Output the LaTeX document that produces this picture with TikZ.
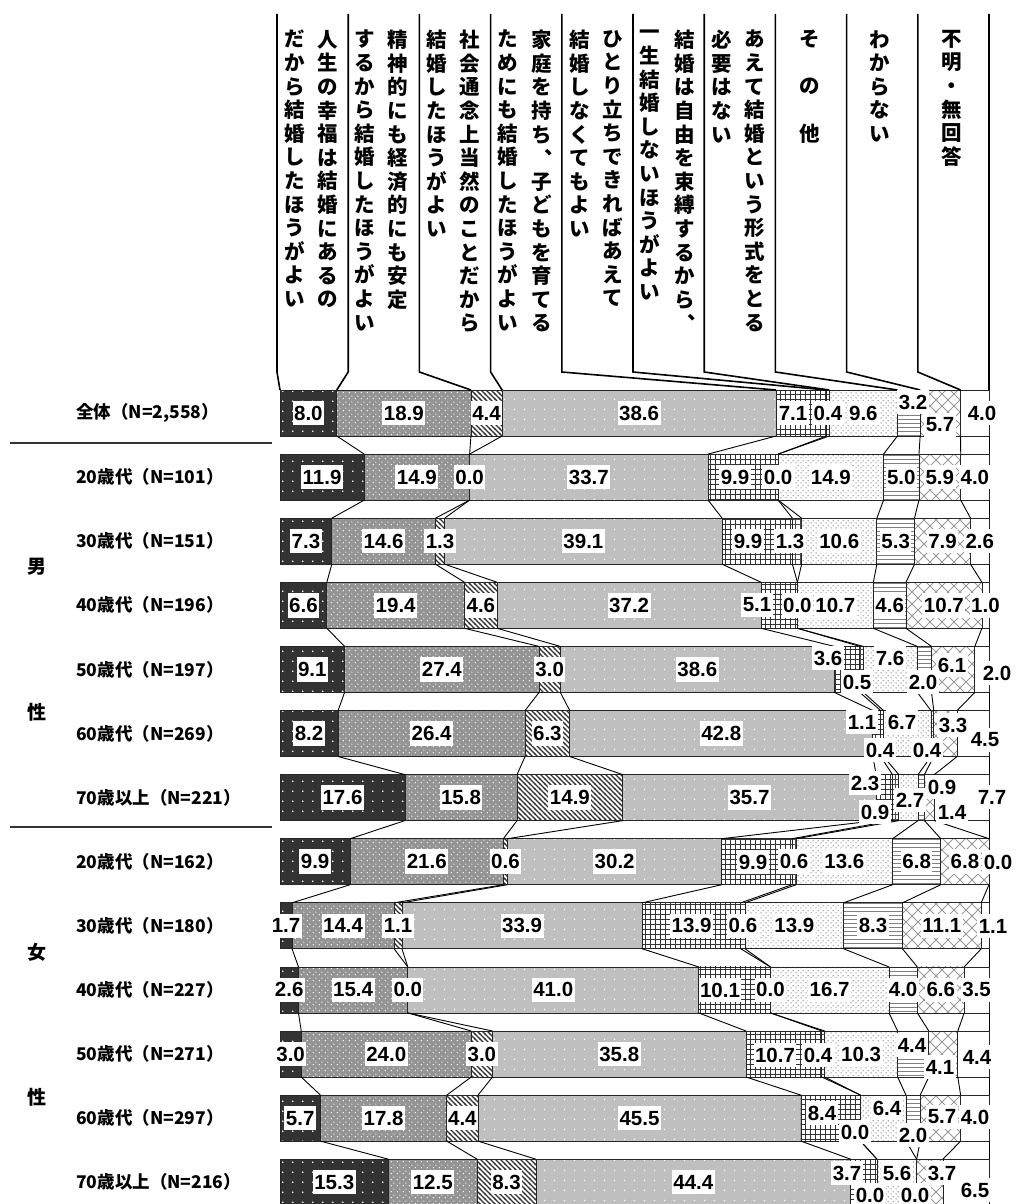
\documentclass[tikz,border=0pt]{standalone}
\usepackage{fontspec}
\setmainfont{Liberation Sans}
\newfontfamily\jp{Noto Sans CJK JP}
\usetikzlibrary{patterns}

\pgfdeclarelayer{fg}
\pgfsetlayers{main,fg}

% fill patterns of the ten answers
\pgfdeclarepatternformonly{wdots}{\pgfqpoint{0pt}{0pt}}{\pgfqpoint{10pt}{10pt}}{\pgfqpoint{10pt}{10pt}}{%
  \pgfpathcircle{\pgfqpoint{3pt}{3pt}}{0.9pt}\pgfusepath{fill}}
\pgfdeclarepatternformonly{mdots}{\pgfqpoint{0pt}{0pt}}{\pgfqpoint{6pt}{6pt}}{\pgfqpoint{6pt}{6pt}}{%
  \pgfpathcircle{\pgfqpoint{1.5pt}{1.5pt}}{0.75pt}\pgfpathcircle{\pgfqpoint{4.5pt}{4.5pt}}{0.75pt}\pgfusepath{fill}}
\pgfdeclarepatternformonly{ldots}{\pgfqpoint{0pt}{0pt}}{\pgfqpoint{10pt}{10pt}}{\pgfqpoint{10pt}{10pt}}{%
  \pgfpathcircle{\pgfqpoint{5pt}{5pt}}{0.8pt}\pgfusepath{fill}}
\pgfdeclarepatternformonly{bdots}{\pgfqpoint{0pt}{0pt}}{\pgfqpoint{5pt}{5pt}}{\pgfqpoint{5pt}{5pt}}{%
  \pgfpathcircle{\pgfqpoint{1.2pt}{1.2pt}}{0.6pt}\pgfpathcircle{\pgfqpoint{3.7pt}{3.7pt}}{0.6pt}\pgfusepath{fill}}
\pgfdeclarepatternformonly{stripes}{\pgfqpoint{-1pt}{-1pt}}{\pgfqpoint{6pt}{6pt}}{\pgfqpoint{5pt}{5pt}}{%
  \pgfsetlinewidth{1.3pt}
  \pgfpathmoveto{\pgfqpoint{-1pt}{6pt}}\pgfpathlineto{\pgfqpoint{6pt}{-1pt}}\pgfusepath{stroke}}
\pgfdeclarepatternformonly{bgrid}{\pgfqpoint{-0.5pt}{-0.5pt}}{\pgfqpoint{5.5pt}{5.5pt}}{\pgfqpoint{5pt}{5pt}}{%
  \pgfsetlinewidth{0.9pt}
  \pgfpathmoveto{\pgfqpoint{-0.5pt}{0pt}}\pgfpathlineto{\pgfqpoint{5.5pt}{0pt}}
  \pgfpathmoveto{\pgfqpoint{0pt}{-0.5pt}}\pgfpathlineto{\pgfqpoint{0pt}{5.5pt}}\pgfusepath{stroke}}
\pgfdeclarepatternformonly{hlines}{\pgfqpoint{0pt}{-0.5pt}}{\pgfqpoint{4pt}{4pt}}{\pgfqpoint{4pt}{4pt}}{%
  \pgfsetlinewidth{1pt}
  \pgfpathmoveto{\pgfqpoint{0pt}{0pt}}\pgfpathlineto{\pgfqpoint{4pt}{0pt}}\pgfusepath{stroke}}
\pgfdeclarepatternformonly{xhatch}{\pgfqpoint{-1pt}{-1pt}}{\pgfqpoint{13pt}{13pt}}{\pgfqpoint{12pt}{12pt}}{%
  \pgfsetlinewidth{0.8pt}
  \pgfpathmoveto{\pgfqpoint{-1pt}{-1pt}}\pgfpathlineto{\pgfqpoint{13pt}{13pt}}
  \pgfpathmoveto{\pgfqpoint{-1pt}{13pt}}\pgfpathlineto{\pgfqpoint{13pt}{-1pt}}\pgfusepath{stroke}}

\tikzset{
  seg1/.style={draw=black!85, preaction={fill=black!80}, pattern=wdots, pattern color=white},
  seg2/.style={draw=black!85, preaction={fill=black!42}, pattern=mdots, pattern color=white},
  seg3/.style={draw=black!85, preaction={fill=white}, pattern=stripes, pattern color=black!80},
  seg4/.style={draw=black!85, preaction={fill=black!25}, pattern=ldots, pattern color=white},
  seg5/.style={draw=black!85, preaction={fill=white}, pattern=bgrid, pattern color=black!80},
  seg6/.style={draw=black!85, preaction={fill=white}, pattern=bgrid, pattern color=black!70},
  seg7/.style={draw=black!85, preaction={fill=white}, pattern=bdots, pattern color=black!85},
  seg8/.style={draw=black!85, preaction={fill=white}, pattern=hlines, pattern color=black!50},
  seg9/.style={draw=black!85, preaction={fill=white}, pattern=xhatch, pattern color=black!40},
  seg10/.style={draw=black!85, fill=white},
  val/.style={fill=white, inner xsep=1.5pt, inner ysep=5pt, font=\bfseries\fontsize{20.5}{20.5}\selectfont},
  rowlab/.style={anchor=west, inner sep=0pt, font=\jp\bfseries\fontsize{17.5}{17.5}\selectfont},
  sexlab/.style={inner sep=0pt, font=\jp\bfseries\fontsize{19}{19}\selectfont},
  vhead/.style={anchor=north, inner sep=0pt, font=\jp\bfseries\fontsize{20.5}{23.6}\selectfont},
  hline/.style={line width=1.6pt},
  link/.style={line width=0.9pt}
}

% vertical stacking of characters
\newcommand\vtxt[1]{\vbox{\baselineskip=23.6pt\lineskiplimit=-30pt\vtxtA#1\relax}}
\def\vtxtA#1{\ifx\relax#1\else\hbox to 22pt{\hss#1\hss}\expandafter\vtxtA\fi}
\def\vc{\hbox to 1em{\hskip0.6em\smash{\raise0.55em\hbox{、}}\hss}}

% labels moved off the centre of their piece
\newcommand\setlab[4]{\expandafter\def\csname lx#1-#2\endcsname{#3}\expandafter\def\csname ly#1-#2\endcsname{#4}}
\setlab{0}{5}{793}{413}\setlab{0}{8}{913}{402}\setlab{0}{9}{940}{425}\setlab{0}{10}{982}{413}
\setlab{1}{5}{735}{477}
\setlab{2}{5}{748}{541}\setlab{2}{6}{790}{541}
\setlab{3}{5}{757}{605}
\setlab{4}{5}{828}{658}\setlab{4}{6}{857}{682}\setlab{4}{7}{890}{658}\setlab{4}{8}{923}{682}\setlab{4}{9}{952}{665}\setlab{4}{10}{997}{673}
\setlab{5}{5}{862}{722}\setlab{5}{6}{880}{750}\setlab{5}{7}{902}{722}\setlab{5}{8}{927}{750}\setlab{5}{9}{953}{725}\setlab{5}{10}{985}{740}
\setlab{6}{5}{865}{783}\setlab{6}{6}{875}{812}\setlab{6}{7}{910}{800}\setlab{6}{8}{942}{787}\setlab{6}{9}{952}{812}\setlab{6}{10}{992}{797}
\setlab{7}{5}{753}{862}\setlab{7}{10}{998}{862}
\setlab{8}{10}{993}{926}
\setlab{9}{5}{720}{990}
\setlab{10}{5}{775}{1055}\setlab{10}{6}{818}{1055}\setlab{10}{8}{912}{1045}\setlab{10}{9}{940}{1067}\setlab{10}{10}{977}{1057}
\setlab{11}{5}{822}{1113}\setlab{11}{6}{855}{1132}\setlab{11}{7}{887}{1108}\setlab{11}{8}{913}{1135}\setlab{11}{9}{942}{1117}\setlab{11}{10}{975}{1117}
\setlab{12}{5}{847}{1173}\setlab{12}{6}{870}{1195}\setlab{12}{7}{897}{1173}\setlab{12}{8}{915}{1195}\setlab{12}{9}{942}{1173}\setlab{12}{10}{975}{1190}

\begin{document}
\begin{tikzpicture}[x=1pt,y=-1pt]
\useasboundingbox (0,0) rectangle (1017,1204);

% headers
\node[vhead] (c1a) at (328,30) {\vtxt{人生の幸福は結婚にあるの}};
\node[vhead] (c1b) at (295,30) {\vtxt{だから結婚したほうがよい}};
\node[vhead] (c2a) at (398,30) {\vtxt{精神的にも経済的にも安定}};
\node[vhead] (c2b) at (365,30) {\vtxt{するから結婚したほうがよい}};
\node[vhead] (c3a) at (470,30) {\vtxt{社会通念上当然のことだから}};
\node[vhead] (c3b) at (437,30) {\vtxt{結婚したほうがよい}};
\node[vhead] (c4a) at (542,30) {\vtxt{家庭を持ち\vc 子どもを育てる}};
\node[vhead] (c4b) at (508,30) {\vtxt{ためにも結婚したほうがよい}};
\node[vhead] (c5a) at (613,30) {\vtxt{ひとり立ちできればあえて}};
\node[vhead] (c5b) at (580,30) {\vtxt{結婚しなくてもよい}};
\node[vhead] (c6a) at (685,30) {\vtxt{結婚は自由を束縛するから\vc}};
\node[vhead] (c6b) at (650,30) {\vtxt{一生結婚しないほうがよい}};
\node[vhead] (c7a) at (755,30) {\vtxt{あえて結婚という形式をとる}};
\node[vhead] (c7b) at (722,30) {\vtxt{必要はない}};
\node[vhead] (c8) at (810,30) {\vtxt{そ　の　他}};
\node[vhead] (c9) at (880,30) {\vtxt{わからない}};
\node[vhead] (c10) at (952,30) {\vtxt{不明・無回答}};

% row names
\foreach \n [count=\rr from 0] in {{全体（N=2,558）},20歳代（N=101）,30歳代（N=151）,40歳代（N=196）,50歳代（N=197）,60歳代（N=269）,70歳以上（N=221）,20歳代（N=162）,30歳代（N=180）,40歳代（N=227）,50歳代（N=271）,60歳代（N=297）,70歳以上（N=216）}
  \node[rowlab] (r\rr) at (76,390+64.1*\rr+23) {\n};
\node[sexlab] (m1) at (37,567) {男};
\node[sexlab] (m2) at (37,712) {性};
\node[sexlab] (f1) at (37,952) {女};
\node[sexlab] (f2) at (37,1097) {性};
\draw[black!80, line width=1.2pt] (10,443) -- (272,443);
\draw[black!80, line width=1.2pt] (10,827) -- (272,827);

% bars
\foreach \vals [count=\rr from 0] in {
  {8.0,18.9,4.4,38.6,7.1,0.4,9.6,3.2,5.7,4.0},
  {11.9,14.9,0.0,33.7,9.9,0.0,14.9,5.0,5.9,4.0},
  {7.3,14.6,1.3,39.1,9.9,1.3,10.6,5.3,7.9,2.6},
  {6.6,19.4,4.6,37.2,5.1,0.0,10.7,4.6,10.7,1.0},
  {9.1,27.4,3.0,38.6,3.6,0.5,7.6,2.0,6.1,2.0},
  {8.2,26.4,6.3,42.8,1.1,0.4,6.7,0.4,3.3,4.5},
  {17.6,15.8,14.9,35.7,2.3,0.9,2.7,0.9,1.4,7.7},
  {9.9,21.6,0.6,30.2,9.9,0.6,13.6,6.8,6.8,0.0},
  {1.7,14.4,1.1,33.9,13.9,0.6,13.9,8.3,11.1,1.1},
  {2.6,15.4,0.0,41.0,10.1,0.0,16.7,4.0,6.6,3.5},
  {3.0,24.0,3.0,35.8,10.7,0.4,10.3,4.4,4.1,4.4},
  {5.7,17.8,4.4,45.5,8.4,0.0,6.4,2.0,5.7,4.0},
  {15.3,12.5,8.3,44.4,3.7,0.0,5.6,0.0,3.7,6.5}} {
  \xdef\tot{0}
  \foreach \val in \vals {\pgfmathparse{\tot+\val}\xdef\tot{\pgfmathresult}}
  \pgfmathsetmacro\yt{390+64.1*\rr}
  \coordinate (t\rr-0) at (280,\yt);
  \foreach \val [count=\kk, remember=\cum as \prv (initially 0)] in \vals {
    \pgfmathsetmacro\cum{\prv+\val}
    \pgfmathsetmacro\xa{280+\prv/\tot*709}
    \pgfmathsetmacro\xb{280+\cum/\tot*709}
    \draw[seg\kk, line width=0.8pt] (\xa,\yt) rectangle (\xb,\yt+46);
    \coordinate (t\rr-\kk) at (\xb,\yt);
    \coordinate (u\rr-\kk) at (\xb,\yt+46);
    \ifcsname lx\rr-\kk\endcsname
      \edef\lx{\csname lx\rr-\kk\endcsname}\edef\ly{\csname ly\rr-\kk\endcsname}
    \else
      \pgfmathsetmacro\lx{(\xa+\xb)/2}\pgfmathsetmacro\ly{\yt+23}
    \fi
    \begin{pgfonlayer}{fg}
      \node[val] (v\rr-\kk) at (\lx,\ly) {\val};
    \end{pgfonlayer}
  }
}

% header lines down to the first bar
\foreach \kk in {0,...,10} {
  \coordinate (h\kk) at (277+71.2*\kk,14);
  \coordinate (hb\kk) at (277+71.2*\kk,372);
  \draw[hline] (h\kk) -- (hb\kk) -- (t0-\kk);
}

% links between bars
\foreach \rr [evaluate=\rr as \nx using int(\rr+1)] in {0,...,11}
  \foreach \kk in {1,...,10}
    \draw[link] (u\rr-\kk) -- (t\nx-\kk);
\end{tikzpicture}
\end{document}
